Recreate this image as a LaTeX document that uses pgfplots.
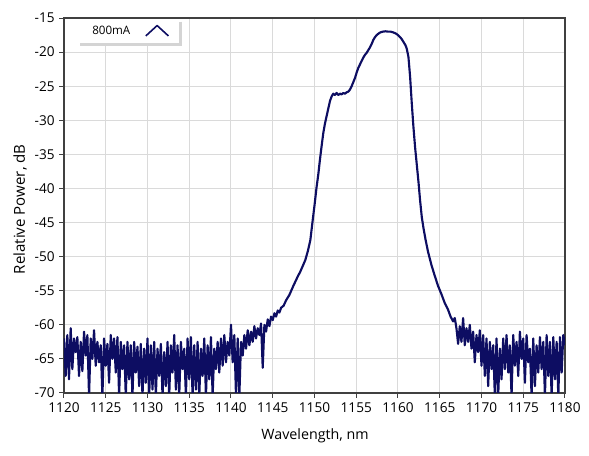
\documentclass[border=0pt]{standalone}
\usepackage{fontspec}
\setmainfont{Open Sans}
\usepackage{pgfplots}
\pgfplotsset{compat=1.18}
\definecolor{trace}{HTML}{0D0D62}
\definecolor{frame}{HTML}{404040}
\definecolor{gridc}{HTML}{DADADA}
\definecolor{legshadow}{HTML}{D4D4D4}

\pgfplotstableread{
x y
1120.0 -62.0
1120.2 -67.5
1120.4 -61.5
1120.6 -68.0
1120.8 -60.5
1121.0 -66.5
1121.2 -62.0
1121.4 -64.0
1121.6 -61.8
1121.8 -67.5
1122.0 -62.5
1122.2 -66.8
1122.4 -61.0
1122.6 -64.5
1122.8 -61.5
1123.0 -70.5
1123.2 -62.0
1123.4 -65.0
1123.6 -60.8
1123.8 -66.0
1124.0 -62.5
1124.2 -65.5
1124.4 -63.0
1124.6 -70.5
1124.8 -62.0
1125.0 -66.0
1125.2 -62.8
1125.4 -68.5
1125.6 -61.5
1125.8 -65.0
1126.0 -62.0
1126.2 -67.0
1126.4 -61.8
1126.6 -70.5
1126.8 -62.5
1127.0 -66.5
1127.2 -63.0
1127.4 -70.5
1127.6 -62.5
1127.8 -68.0
1128.0 -63.0
1128.2 -70.5
1128.4 -62.5
1128.6 -67.0
1128.8 -63.2
1129.0 -69.0
1129.2 -62.8
1129.4 -70.5
1129.6 -63.5
1129.8 -68.5
1130.0 -62.0
1130.2 -70.5
1130.4 -63.0
1130.6 -69.5
1130.8 -62.5
1131.0 -70.5
1131.2 -63.5
1131.4 -67.5
1131.6 -62.8
1131.8 -70.5
1132.0 -64.0
1132.2 -69.0
1132.4 -62.5
1132.6 -70.5
1132.8 -63.0
1133.0 -67.0
1133.2 -61.5
1133.4 -69.5
1133.6 -63.0
1133.8 -70.5
1134.0 -62.5
1134.2 -66.5
1134.4 -63.5
1134.6 -70.5
1134.8 -62.0
1135.0 -68.0
1135.2 -61.8
1135.4 -70.5
1135.6 -63.0
1135.8 -69.5
1136.0 -62.5
1136.2 -70.5
1136.4 -63.5
1136.6 -67.5
1136.8 -62.0
1137.0 -70.5
1137.2 -63.0
1137.4 -68.0
1137.6 -61.8
1137.8 -70.5
1138.0 -63.5
1138.2 -66.5
1138.4 -62.5
1138.6 -67.0
1138.8 -62.0
1139.0 -66.0
1139.2 -61.5
1139.4 -65.5
1139.6 -62.5
1139.8 -64.5
1140.0 -60.0
1140.2 -65.5
1140.4 -61.5
1140.6 -70.5
1140.8 -62.0
1141.0 -70.5
1141.2 -62.5
1141.4 -64.5
1141.6 -61.5
1141.8 -63.5
1142.0 -60.8
1142.2 -63.0
1142.4 -61.0
1142.6 -62.5
1142.8 -60.2
1143.0 -62.0
1143.2 -60.5
1143.4 -61.5
1143.6 -59.8
1143.8 -66.3
1144.0 -60.0
1144.2 -61.0
1144.4 -59.2
1144.6 -60.2
1144.8 -58.8
1145.0 -59.3
1145.2 -58.3
1145.4 -58.8
1145.6 -57.9
1145.8 -58.2
1146.0 -57.5
1146.3 -57.2
1146.6 -56.4
1147.0 -55.6
1147.5 -54.2
1148.0 -52.9
1148.3 -52.2
1148.9 -50.5
1149.2 -49.2
1149.5 -47.6
1149.8 -44.5
1150.0 -42.5
1150.25 -39.8
1150.45 -38.0
1150.65 -35.8
1150.85 -33.8
1151.05 -31.9
1151.25 -30.5
1151.45 -29.4
1151.65 -28.3
1151.85 -27.2
1152.05 -26.5
1152.25 -26.1
1152.45 -26.3
1152.65 -26.0
1152.85 -26.3
1153.05 -26.1
1153.25 -26.2
1153.45 -26.0
1153.65 -26.1
1153.85 -25.9
1154.05 -25.8
1154.25 -25.5
1154.45 -25.0
1154.65 -24.4
1154.85 -23.8
1155.05 -23.0
1155.25 -22.3
1155.45 -21.8
1155.65 -21.3
1155.85 -20.8
1156.05 -20.4
1156.25 -20.1
1156.45 -19.7
1156.65 -19.3
1156.85 -18.8
1157.05 -18.2
1157.25 -17.8
1157.45 -17.5
1157.65 -17.3
1157.9 -17.1
1158.2 -17.0
1158.5 -16.95
1158.8 -17.0
1159.1 -17.0
1159.4 -17.1
1159.7 -17.25
1160.0 -17.5
1160.25 -17.8
1160.45 -18.1
1160.7 -18.6
1160.9 -19.0
1161.05 -19.5
1161.25 -20.7
1161.45 -23.6
1161.65 -27.5
1161.85 -31.0
1162.05 -34.0
1162.25 -36.5
1162.45 -39.0
1162.65 -41.8
1162.85 -44.2
1163.05 -45.8
1163.3 -47.5
1163.6 -49.3
1164.0 -51.2
1164.4 -52.8
1164.8 -54.3
1165.2 -55.5
1165.6 -56.8
1166.0 -57.8
1166.3 -58.8
1166.6 -59.5
1166.8 -59.0
1167.0 -60.5
1167.2 -62.8
1167.4 -60.2
1167.6 -62.5
1167.8 -59.0
1168.0 -63.0
1168.2 -60.5
1168.4 -62.5
1168.6 -60.0
1168.8 -63.5
1169.0 -61.0
1169.2 -65.5
1169.4 -61.5
1169.6 -64.0
1169.8 -60.8
1170.0 -66.0
1170.2 -61.5
1170.4 -67.5
1170.6 -62.0
1170.8 -69.0
1171.0 -62.5
1171.2 -66.5
1171.4 -63.0
1171.6 -70.5
1171.8 -62.0
1172.0 -70.5
1172.2 -63.5
1172.4 -68.0
1172.6 -62.0
1172.8 -66.5
1173.0 -61.5
1173.2 -67.0
1173.4 -63.0
1173.6 -70.5
1173.8 -61.5
1174.0 -66.0
1174.2 -62.5
1174.4 -67.5
1174.6 -61.0
1174.8 -65.0
1175.0 -62.0
1175.2 -68.5
1175.4 -61.5
1175.6 -65.5
1175.8 -63.5
1176.0 -70.5
1176.2 -62.0
1176.4 -69.0
1176.6 -63.0
1176.8 -67.0
1177.0 -61.8
1177.2 -66.5
1177.4 -62.5
1177.6 -70.5
1177.8 -61.5
1178.0 -67.5
1178.2 -62.5
1178.4 -70.5
1178.6 -61.8
1178.8 -68.0
1179.0 -62.5
1179.2 -70.5
1179.4 -61.8
1179.6 -67.0
1179.8 -61.5
1180.0 -63.0
}\spectrum

\begin{document}
\fontsize{10pt}{12pt}\selectfont
\begin{tikzpicture}
\begin{axis}[
  scale only axis,
  width=375.75pt, height=281.25pt,
  xmin=1120, xmax=1180, ymin=-70, ymax=-15,
  xtick={1120,1125,...,1180},
  ytick={-70,-65,...,-15},
  grid=major,
  major grid style={gridc, line width=0.75pt},
  axis line style={frame, line width=0.9pt},
  tick pos=left, tick align=outside,
  major tick length=3.5pt,
  tick style={frame, line width=0.75pt},
  /pgf/number format/assume math mode=true,
  /pgf/number format/1000 sep={},
  tick label style={font=\fontsize{10.2pt}{12pt}\selectfont, text=black},
  xlabel={Wavelength, nm},
  ylabel={Relative Power, dB},
  every axis x label/.style={at={(axis description cs:0.501,-0.1147)}, anchor=center,
    font=\fontsize{10.7pt}{12pt}\selectfont},
  every axis y label/.style={at={(axis description cs:-0.0878,0.49)}, anchor=center, rotate=90,
    font=\fontsize{11.3pt}{13pt}\selectfont},
  legend plot pos=right,
  legend image code/.code={\draw[#1, line width=1.2pt] (0pt,-3.8pt) -- (8.5pt,4pt) -- (17pt,-3.8pt);},
  legend style={
    name=leg,
    at={(axis description cs:0.032,0.998)}, anchor=north west,
    draw=none, fill=white,
    font=\fontsize{8.7pt}{10pt}\selectfont,
    inner xsep=7pt, inner ysep=3pt,
    /tikz/every odd column/.style={column sep=9pt},
  },
]
\addplot[trace, line width=1.6pt, line join=round] table[x=x, y=y] {\spectrum};
\addlegendentry{800mA}
\end{axis}
% shadow along the right and lower edges of the legend box
\draw[draw=legshadow, line width=2.6pt]
  ([xshift=1.3pt, yshift=-2.2pt]leg.north east) -- ([xshift=1.3pt, yshift=-1.3pt]leg.south east)
  -- ([xshift=0pt, yshift=-1.3pt]leg.south west);
\pgfresetboundingbox
\path (-48pt,-47.25pt) rectangle (393.75pt,294.75pt);
\end{tikzpicture}
\end{document}
